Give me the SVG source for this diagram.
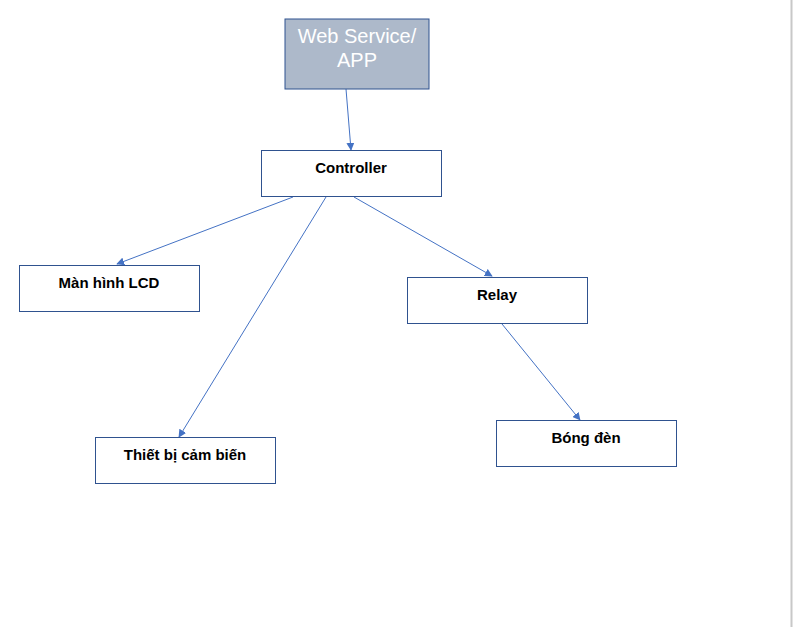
<svg xmlns="http://www.w3.org/2000/svg" width="793" height="627" viewBox="0 0 793 627">
<defs>
<style>
.box{fill:#ffffff;stroke:#2f528f;stroke-width:1}
.lbl{font-family:"Liberation Sans",Arial,sans-serif;font-size:15px;font-weight:bold;fill:#000;text-anchor:middle}
.ws{font-family:"Liberation Sans",Arial,sans-serif;font-size:20px;fill:#ffffff;text-anchor:middle}
.conn{stroke:#4472c4;stroke-width:1;fill:none;marker-end:url(#ah)}
</style>
<marker id="ah" viewBox="0 0 10 10" refX="9" refY="5" markerWidth="8" markerHeight="8" markerUnits="userSpaceOnUse" orient="auto">
<path d="M0,0 L10,5 L0,10 z" fill="#4472c4"/>
</marker>
</defs>
<rect width="793" height="627" fill="#ffffff"/>
<line x1="791.5" y1="0" x2="791.5" y2="627" stroke="#c8c8c8" stroke-width="2"/>
<g id="connectors">
<line class="conn" x1="346" y1="89" x2="351" y2="150"/>
<line class="conn" x1="293" y1="197" x2="117" y2="264"/>
<line class="conn" x1="326" y1="197" x2="179" y2="437"/>
<line class="conn" x1="354" y1="197" x2="492" y2="276"/>
<line class="conn" x1="502" y1="324" x2="580" y2="420"/>
</g>
<g id="webservice">
<rect x="285" y="19" width="144" height="70" fill="#adb9ca" stroke="#2f528f" stroke-width="1"/>
<text class="ws" x="357" y="43">Web Service/</text>
<text class="ws" x="357" y="67">APP</text>
</g>
<g id="controller">
<rect class="box" x="261.5" y="150.5" width="180" height="46"/>
<text class="lbl" x="351" y="173">Controller</text>
</g>
<g id="lcd">
<rect class="box" x="19.5" y="265.5" width="180" height="46"/>
<text class="lbl" x="109" y="288">Màn hình LCD</text>
</g>
<g id="sensor">
<rect class="box" x="95.5" y="437.5" width="180" height="46"/>
<text class="lbl" x="185" y="460">Thiết bị cảm biến</text>
</g>
<g id="relay">
<rect class="box" x="407.5" y="277.5" width="180" height="46"/>
<text class="lbl" x="497" y="300">Relay</text>
</g>
<g id="bulb">
<rect class="box" x="496.5" y="420.5" width="180" height="46"/>
<text class="lbl" x="586" y="443">Bóng đèn</text>
</g>
</svg>
